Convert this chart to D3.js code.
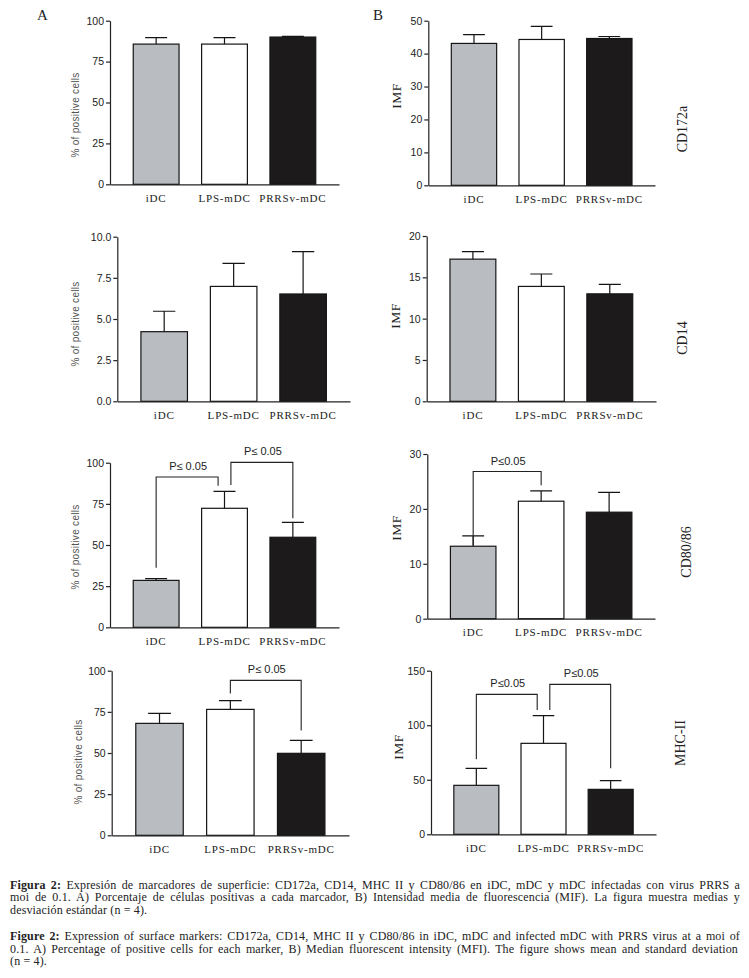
<!DOCTYPE html>
<html>
<head>
<meta charset="utf-8">
<script src="https://cdn.jsdelivr.net/npm/d3@7"></script>
<style>
  body { margin: 0; background: #fff; }
  .axis text { font-family: "Liberation Sans", Arial, sans-serif; font-size: 10.5px; fill: #222; }
  .x-axis text { font-family: "Liberation Serif", "Times New Roman", serif; font-size: 11px; letter-spacing: 0.8px; fill: #222; }
  .axis path, .axis line { stroke: #222; stroke-width: 1.2; }
  .sig text { font-family: "Liberation Sans", Arial, sans-serif; font-size: 11px; fill: #222; }
  .caption { font-family: "Liberation Serif", "Times New Roman", serif; font-size: 12px; letter-spacing: 0.15px; fill: #222; }
</style>
</head>
<body>
<div id="chart"></div>
<script>
// groups on every x axis
const groups = ['iDC', 'LPS-mDC', 'PRRSv-mDC'];
const barColors = ['#b9bcc1', '#ffffff', '#1c1a1b'];

// A) % of positive cells, mean and sd
const pctCD172a = [85.7, 85.7, 90.0];
const pctCD172aSD = [3.9, 3.9, 0.4];
const pctCD14 = [4.23, 6.98, 6.52];
const pctCD14SD = [1.24, 1.40, 2.57];
const pctCD80 = [28.5, 72.3, 54.7];
const pctCD80SD = [1.1, 10.3, 9.1];
const pctMHC = [68.0, 76.5, 49.8];
const pctMHCSD = [6.1, 5.3, 7.9];

// B) IMF, mean and sd
const mfiCD172a = [43.1, 44.3, 44.6];
const mfiCD172aSD = [2.7, 4.0, 0.6];
const mfiCD14 = [17.2, 13.9, 13.0];
const mfiCD14SD = [0.9, 1.5, 1.15];
const mfiCD80 = [13.2, 21.4, 19.4];
const mfiCD80SD = [1.9, 1.9, 3.6];
const mfiMHC = [44.9, 83.4, 41.2];
const mfiMHCSD = [15.6, 25.4, 8.0];

// y ticks
const ticksPct = [0, 25, 50, 75, 100];
const ticksPctCD14 = [0, 2.5, 5, 7.5, 10];
const ticksMfiCD172a = [0, 10, 20, 30, 40, 50];
const ticksMfiCD14 = [0, 5, 10, 15, 20];
const ticksMfiCD80 = [0, 10, 20, 30];
const ticksMfiMHC = [0, 50, 100, 150];

// significance brackets: [from bar, to bar, left foot, top, right foot] in data units
const sigPctCD80 = [[0, 1, 36.2, 91.3, 86.0], [1, 2, 86.4, 100.2, 66.2]];
const sigPctMHC = [[1, 2, 86.2, 94.1, 63.6]];
const sigMfiCD80 = [[0, 1, 13.4, 26.8, 24.3]];
const sigMfiMHC = [[0, 1, 68.7, 128.3, 114.0], [1, 2, 114.0, 137.5, 60.5]];

const markers = ['CD172a', 'CD14', 'CD80/86', 'MHC-II'];

const captionEs = [
    ['Figura 2:', ' Expresión de marcadores de superficie: CD172a, CD14, MHC II y CD80/86 en iDC, mDC y mDC infectadas con virus PRRS a'],
    ['', 'moi de 0.1. A) Porcentaje de células positivas a cada marcador, B) Intensidad media de fluorescencia (MIF). La figura muestra medias y'],
    ['', 'desviación estándar (n = 4).']
];
const captionEn = [
    ['Figure 2:', ' Expression of surface markers: CD172a, CD14, MHC II y CD80/86 in iDC, mDC and infected mDC with PRRS virus at a moi of'],
    ['', '0.1. A) Percentage of positive cells for each marker, B) Median fluorescent intensity (MFI). The figure shows mean and  standard deviation'],
    ['', '(n = 4).']
];

class BarPanel {
    constructor(_config, _data) {
        this.config = _config;
        this.data = _data;
        this.initVis();
    }

    initVis() {
        const vis = this;
        const c = vis.config;

        vis.g = c.svg.append('g');

        vis.xScale = d3.scaleBand()
            .domain(groups)
            .range([c.x0, c.x1])
            .paddingInner(0.33)
            .paddingOuter(0.34);
        vis.yScale = d3.scaleLinear()
            .domain([0, c.max])
            .range([c.yBot, c.yTop]);

        vis.yAxis = d3.axisLeft(vis.yScale)
            .tickValues(c.ticks)
            .tickFormat(c.fmt)
            .tickSize(4)
            .tickSizeOuter(0)
            .tickPadding(2);
        vis.xAxis = d3.axisBottom(vis.xScale)
            .tickSize(0)
            .tickSizeOuter(0)
            .tickPadding(10);

        vis.renderVis();
    }

    renderVis() {
        const vis = this;
        const c = vis.config;
        const bw = vis.xScale.bandwidth();
        const rows = groups.map((g, i) => ({ g, i, mean: vis.data.means[i], sd: vis.data.sd[i] }));

        // bars
        vis.g.selectAll('.bar')
            .data(rows)
          .join('rect')
            .attr('class', 'bar')
            .attr('x', d => vis.xScale(d.g))
            .attr('y', d => vis.yScale(d.mean))
            .attr('width', bw)
            .attr('height', d => c.yBot - vis.yScale(d.mean))
            .attr('fill', d => barColors[d.i])
            .attr('stroke', '#151515')
            .attr('stroke-width', 1.2);

        // error bars, upper half only
        const cx = d => vis.xScale(d.g) + bw / 2;
        vis.g.selectAll('.err')
            .data(rows)
          .join('path')
            .attr('class', 'err')
            .attr('fill', 'none')
            .attr('stroke', '#151515')
            .attr('stroke-width', 1.2)
            .attr('d', d => {
                const y0 = vis.yScale(d.mean);
                const y1 = vis.yScale(d.mean + d.sd);
                return `M${cx(d)},${y0}V${y1}M${cx(d) - bw * 0.24},${y1}H${cx(d) + bw * 0.24}`;
            });

        // axes
        vis.g.append('g')
            .attr('class', 'axis y-axis')
            .attr('transform', `translate(${c.x0},0)`)
            .call(vis.yAxis)
            .attr('font-size', null)
            .attr('font-family', null);
        vis.g.append('g')
            .attr('class', 'axis x-axis')
            .attr('transform', `translate(0,${c.yBot})`)
            .call(vis.xAxis)
            .attr('font-size', null)
            .attr('font-family', null);

        // significance brackets
        const brackets = vis.data.sig || [];
        const used = {};
        brackets.forEach(b => { used[b[0]] = (used[b[0]] || 0) + 1; used[b[1]] = (used[b[1]] || 0) + 1; });
        const shift = bw * 0.14;
        const sig = vis.g.append('g').attr('class', 'sig');
        brackets.forEach(b => {
            const xl = vis.xScale(groups[b[0]]) + bw / 2 + (used[b[0]] > 1 ? shift : 0);
            const xr = vis.xScale(groups[b[1]]) + bw / 2 - (used[b[1]] > 1 ? shift : 0);
            const yt = vis.yScale(b[3]);
            sig.append('path')
                .attr('fill', 'none')
                .attr('stroke', '#222')
                .attr('stroke-width', 1.1)
                .attr('d', `M${xl},${vis.yScale(b[2])}V${yt}H${xr}V${vis.yScale(b[4])}`);
            sig.append('text')
                .attr('x', (xl + xr) / 2 + 1)
                .attr('y', yt - 7)
                .attr('text-anchor', 'middle')
                .text(c.sigLabel);
        });

        // y axis title
        vis.g.append('text')
            .attr('transform', `translate(${c.titleX},${c.titleY}) rotate(-90)`)
            .attr('text-anchor', 'middle')
            .attr('font-family', c.titleSerif ? '"Liberation Serif", serif' : '"Liberation Sans", Arial, sans-serif')
            .attr('font-size', c.titleSerif ? 13.5 : 10)
            .attr('letter-spacing', c.titleSerif ? 0.5 : 0.3)
            .attr('fill', c.titleSerif ? '#222' : '#555')
            .text(c.title);

        // marker name at right of B panels
        if (c.marker) {
            vis.g.append('text')
                .attr('transform', `translate(${c.markerX},${c.markerY}) rotate(-90)`)
                .attr('text-anchor', 'middle')
                .attr('font-family', '"Liberation Serif", serif')
                .attr('font-size', 14)
                .attr('fill', '#222')
                .text(c.marker);
        }
    }
}

const svg = d3.select('#chart').append('svg')
    .attr('width', 749)
    .attr('height', 978);
svg.append('rect').attr('width', 749).attr('height', 978).attr('fill', '#fff');

const fmtInt = d3.format('d');
const fmtOne = d3.format('.1f');
const pctTitle = '% of positive cells';

// column A
new BarPanel({ svg, x0: 110, x1: 339, yTop: 20.7, yBot: 184.3, max: 100, ticks: ticksPct, fmt: fmtInt,
    title: pctTitle, titleX: 79, titleY: 115, sigLabel: 'P\u2264 0.05' },
    { means: pctCD172a, sd: pctCD172aSD });
new BarPanel({ svg, x0: 117.3, x1: 350, yTop: 236.7, yBot: 401.3, max: 10, ticks: ticksPctCD14, fmt: fmtOne,
    title: pctTitle, titleX: 79, titleY: 324, sigLabel: 'P\u2264 0.05' },
    { means: pctCD14, sd: pctCD14SD });
new BarPanel({ svg, x0: 110, x1: 339, yTop: 462.7, yBot: 627.3, max: 100, ticks: ticksPct, fmt: fmtInt,
    title: pctTitle, titleX: 79, titleY: 547, sigLabel: 'P\u2264 0.05' },
    { means: pctCD80, sd: pctCD80SD, sig: sigPctCD80 });
new BarPanel({ svg, x0: 111.7, x1: 349, yTop: 670.7, yBot: 835.3, max: 100, ticks: ticksPct, fmt: fmtInt,
    title: pctTitle, titleX: 82, titleY: 762, sigLabel: 'P\u2264 0.05' },
    { means: pctMHC, sd: pctMHCSD, sig: sigPctMHC });

// column B
new BarPanel({ svg, x0: 428.3, x1: 655, yTop: 20.7, yBot: 185.3, max: 50, ticks: ticksMfiCD172a, fmt: fmtInt,
    title: 'IMF', titleSerif: true, titleX: 401, titleY: 96, sigLabel: 'P\u22640.05',
    marker: markers[0], markerX: 686.5, markerY: 129 },
    { means: mfiCD172a, sd: mfiCD172aSD });
new BarPanel({ svg, x0: 426.7, x1: 656, yTop: 236, yBot: 401.3, max: 20, ticks: ticksMfiCD14, fmt: fmtInt,
    title: 'IMF', titleSerif: true, titleX: 400, titleY: 316, sigLabel: 'P\u22640.05',
    marker: markers[1], markerX: 686.5, markerY: 338 },
    { means: mfiCD14, sd: mfiCD14SD });
new BarPanel({ svg, x0: 427.3, x1: 655, yTop: 454, yBot: 618.7, max: 30, ticks: ticksMfiCD80, fmt: fmtInt,
    title: 'IMF', titleSerif: true, titleX: 400.5, titleY: 528, sigLabel: 'P\u22640.05',
    marker: markers[2], markerX: 690.5, markerY: 552 },
    { means: mfiCD80, sd: mfiCD80SD, sig: sigMfiCD80 });
new BarPanel({ svg, x0: 431, x1: 656, yTop: 670.7, yBot: 834.3, max: 150, ticks: ticksMfiMHC, fmt: fmtInt,
    title: 'IMF', titleSerif: true, titleX: 403, titleY: 747, sigLabel: 'P\u22640.05',
    marker: markers[3], markerX: 685, markerY: 743 },
    { means: mfiMHC, sd: mfiMHCSD, sig: sigMfiMHC });

// panel letters
svg.append('text').attr('x', 37).attr('y', 20)
    .attr('font-family', '"Liberation Serif", serif').attr('font-size', 15).attr('fill', '#222').text('A');
svg.append('text').attr('x', 373).attr('y', 20)
    .attr('font-family', '"Liberation Serif", serif').attr('font-size', 15).attr('fill', '#222').text('B');

// caption, justified by word spacing
function drawCaption(lines, y0) {
    const width = 730;
    lines.forEach((ln, i) => {
        const t = svg.append('text')
            .attr('class', 'caption')
            .attr('x', 10)
            .attr('y', y0 + i * 12.7);
        if (ln[0]) t.append('tspan').attr('font-weight', 'bold').text(ln[0]);
        t.append('tspan').text(ln[1]);
        if (i < lines.length - 1) {
            const len = t.node().getComputedTextLength();
            const spaces = (ln[0] + ln[1]).split(' ').length - 1;
            if (len > width) {
                t.attr('textLength', width).attr('lengthAdjust', 'spacingAndGlyphs');
            } else {
                t.attr('word-spacing', (width - len) / spaces);
            }
        }
    });
}
drawCaption(captionEs, 888.5);
drawCaption(captionEn, 940);
</script>
</body>
</html>
